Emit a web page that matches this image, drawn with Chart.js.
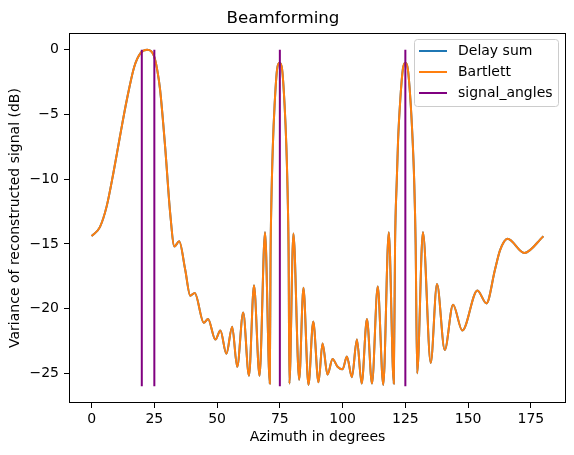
<!DOCTYPE html>
<html>
<head>
<meta charset="utf-8">
<script src="https://cdn.jsdelivr.net/npm/chart.js@4.4.1/dist/chart.umd.min.js"></script>
<style>
  html, body { margin: 0; padding: 0; background: #fff; }
  #wrap { width: 574px; height: 455px; }
</style>
</head>
<body>
<div id="wrap"><canvas id="beamChart" width="574" height="455"></canvas></div>
<script>
// azimuth (deg) and response (dB)
const azimuth = [0, 3.3, 6.0, 8.7, 11.3, 14.0, 17.0, 19.5, 22.2, 24.8,
  26.2, 27.3, 29.3, 31.3, 33.0, 34.9, 37.3, 39.3, 41.1, 44.7,
  46.4, 49.3, 51.3, 53.7, 56.0, 58.0, 60.4, 62.7, 64.7, 66.9, 69.1,
  71.0, 71.3, 71.6, 72.2, 72.9, 73.9, 74.9, 75.9, 76.9, 77.6, 78.2, 78.5, 78.8,
  80.4, 82.7, 84.4, 86.4, 88.3, 90.4, 92.0, 94.0, 96.0, 98.0,
  100.0, 101.7, 103.7, 105.7, 107.6, 109.7, 111.7, 114.0, 116.2, 118.4,
  120.4, 120.9, 121.6, 122.1, 123.0, 124.0, 125.0, 126.0, 127.0, 127.9, 128.5, 129.1, 129.7,
  132.0, 135.1, 137.6, 140.7, 144.0, 147.7, 153.7, 157.3, 160.7, 162.7, 165.7, 172.4, 180.0];

const delaySumDb = [-14.4, -13.7, -12.1, -9.5, -6.7, -3.9, -1.3, -0.25, 0.0, -0.45,
  -1.6, -3.1, -7.5, -12.6, -15.2, -14.8, -17.0, -19.0, -18.8, -21.1,
  -20.8, -22.4, -21.7, -23.5, -21.4, -24.5, -20.3, -25.2, -18.2, -25.2, -14.1,
  -25.8, -16.0, -12.0, -7.5, -4.3, -1.5, -1.0, -1.5, -4.3, -7.5, -12.0, -16.0, -25.8,
  -14.2, -25.5, -18.4, -25.9, -21.0, -25.7, -22.7, -25.1, -23.9, -24.5,
  -24.7, -23.7, -25.3, -22.4, -25.8, -20.8, -25.8, -18.3, -25.9, -14.1,
  -25.8, -15.0, -10.0, -7.0, -3.8, -1.5, -1.0, -1.5, -3.8, -7.0, -10.0, -15.0, -25.0,
  -14.1, -24.2, -18.1, -23.2, -19.7, -21.7, -18.6, -19.6, -17.0, -15.5, -14.6, -15.7, -14.4];

// the two curves lie on top of each other in the picture
const bartlettDb = delaySumDb.slice();

const signalAngles = [20, 25, 75, 125];
const signalRange = [-26, 0];

const xTicks = [0, 25, 50, 75, 100, 125, 150, 175];
const yTicks = [0, -5, -10, -15, -20, -25];

const FONT = "'DejaVu Sans', sans-serif";

function toPoints(xs, ys) {
  return xs.map(function(x, i) { return {x: x, y: ys[i]}; });
}

// vertical segments, broken with null so one dataset draws all of them
var signalPoints = [];
signalAngles.forEach(function(a) {
  signalPoints.push({x: a, y: signalRange[0]});
  signalPoints.push({x: a, y: signalRange[1]});
  signalPoints.push({x: a, y: null});
});

const legendItems = [
  {label: 'Delay sum', color: '#1f77b4'},
  {label: 'Bartlett', color: '#ff7f0e'},
  {label: 'signal_angles', color: '#800080'}
];

// axes frame + matplotlib style legend
const framePlugin = {
  id: 'frame',
  afterDraw: function(chart) {
    const ctx = chart.ctx;
    const a = chart.chartArea;
    ctx.save();
    ctx.strokeStyle = '#000';
    ctx.lineWidth = 1;
    ctx.strokeRect(Math.round(a.left) + 0.5, Math.round(a.top) + 0.5,
      Math.round(a.right - a.left) - 1, Math.round(a.bottom - a.top) - 1);

    // legend box
    const bx = 414.5, by = 39.5, bw = 144, bh = 67, r = 3;
    ctx.beginPath();
    ctx.moveTo(bx + r, by);
    ctx.lineTo(bx + bw - r, by);
    ctx.quadraticCurveTo(bx + bw, by, bx + bw, by + r);
    ctx.lineTo(bx + bw, by + bh - r);
    ctx.quadraticCurveTo(bx + bw, by + bh, bx + bw - r, by + bh);
    ctx.lineTo(bx + r, by + bh);
    ctx.quadraticCurveTo(bx, by + bh, bx, by + bh - r);
    ctx.lineTo(bx, by + r);
    ctx.quadraticCurveTo(bx, by, bx + r, by);
    ctx.closePath();
    ctx.fillStyle = 'rgba(255,255,255,0.8)';
    ctx.fill();
    ctx.strokeStyle = '#cccccc';
    ctx.stroke();

    ctx.font = '14px ' + FONT;
    ctx.textBaseline = 'middle';
    ctx.textAlign = 'left';
    legendItems.forEach(function(item, i) {
      const y = 51 + i * 21;
      ctx.strokeStyle = item.color;
      ctx.lineWidth = 2;
      ctx.beginPath();
      ctx.moveTo(419, y);
      ctx.lineTo(447, y);
      ctx.stroke();
      ctx.fillStyle = '#000';
      ctx.fillText(item.label, 458, y);
    });
    ctx.restore();
  }
};

const ctx = document.getElementById('beamChart').getContext('2d');
const beamChart = new Chart(ctx, {
  type: 'line',
  data: {
    datasets: [{
      label: 'signal_angles',
      data: signalPoints,
      borderColor: '#800080',
      borderWidth: 2,
      pointRadius: 0,
      tension: 0,
      spanGaps: false,
      order: 0
    }, {
      label: 'Bartlett',
      data: toPoints(azimuth, bartlettDb),
      borderColor: '#ff7f0e',
      borderWidth: 2,
      pointRadius: 0,
      cubicInterpolationMode: 'monotone',
      order: 1
    }, {
      label: 'Delay sum',
      data: toPoints(azimuth, delaySumDb),
      borderColor: '#1f77b4',
      borderWidth: 2,
      pointRadius: 0,
      cubicInterpolationMode: 'monotone',
      order: 2
    }]
  },
  options: {
    responsive: false,
    animation: false,
    layout: { padding: { left: 0, right: 8, top: 0, bottom: 0 } },
    plugins: {
      legend: { display: false },
      tooltip: { enabled: false },
      title: {
        display: true,
        text: 'Beamforming',
        color: '#000',
        font: { family: FONT, size: 16.7, weight: 'normal' },
        padding: { top: 9, bottom: 4 }
      }
    },
    scales: {
      x: {
        type: 'linear',
        min: -9,
        max: 189,
        afterBuildTicks: function(scale) {
          scale.ticks = xTicks.map(function(v) { return {value: v}; });
        },
        afterFit: function(scale) { scale.height = 52; },
        grid: { display: true, drawOnChartArea: false, drawTicks: true, tickLength: 5, color: '#000' },
        border: { display: false },
        ticks: {
          color: '#000',
          padding: 3,
          maxRotation: 0,
          font: { family: FONT, size: 14 },
          callback: function(v) { return String(v); }
        },
        title: {
          display: true,
          text: 'Azimuth in degrees',
          color: '#000',
          font: { family: FONT, size: 14 },
          padding: { top: 0, bottom: 9.6 }
        }
      },
      y: {
        type: 'linear',
        min: -27.3,
        max: 1.3,
        afterBuildTicks: function(scale) {
          scale.ticks = yTicks.map(function(v) { return {value: v}; });
        },
        afterFit: function(scale) { scale.width = 69; },
        grid: { display: true, drawOnChartArea: false, drawTicks: true, tickLength: 5, color: '#000' },
        border: { display: false },
        ticks: {
          color: '#000',
          padding: 5,
          font: { family: FONT, size: 14 },
          callback: function(v) { return v < 0 ? '\u2212' + Math.abs(v) : String(v); }
        },
        title: {
          display: true,
          text: 'Variance of reconstructed signal (dB)',
          color: '#000',
          font: { family: FONT, size: 14 },
          padding: { top: 6.6, bottom: 0 }
        }
      }
    }
  },
  plugins: [framePlugin]
});
</script>
</body>
</html>
